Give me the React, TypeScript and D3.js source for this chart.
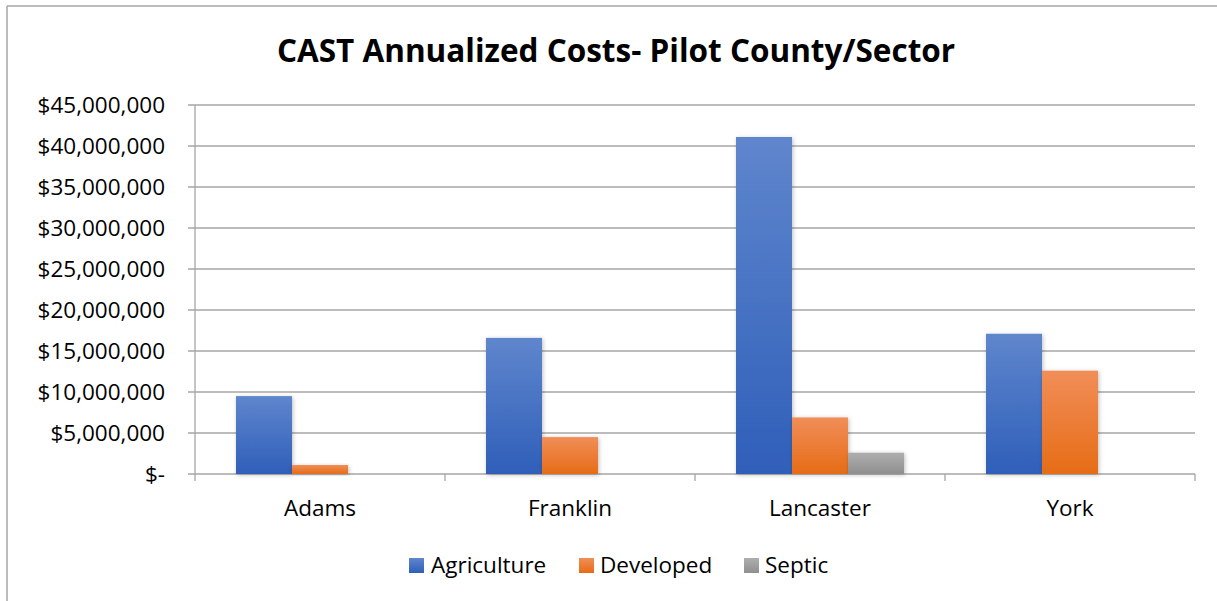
import React from "react";
import * as d3 from "d3";

const categories = ["Adams", "Franklin", "Lancaster", "York"];
const seriesNames = ["Agriculture", "Developed", "Septic"];
const agriculture = [9500000, 16600000, 41100000, 17100000];
const developed = [1100000, 4500000, 6900000, 12600000];
const septic = [0, 0, 2600000, 0];
const yTicks = [0, 5000000, 10000000, 15000000, 20000000, 25000000, 30000000, 35000000, 40000000, 45000000];

const seriesValues = [agriculture, developed, septic];
const gradients = [
  ["#5F86CD", "#2F5FB9"],
  ["#F18E58", "#E66C16"],
  ["#AEAEAE", "#8F8F8F"],
];

const W = 1217, H = 601;
const left = 195, right = 1195, top = 105, bottom = 474;

const fmt = (v: number) => (v === 0 ? "$-" : "$" + d3.format(",")(v));

export default function App() {
  const x0 = d3.scaleBand<string>().domain(categories).range([left, right]).paddingInner(0).paddingOuter(0);
  const groupW = x0.bandwidth();
  const gap = 0.328;
  const x1 = d3
    .scaleBand<string>()
    .domain(seriesNames)
    .range([groupW * gap / 2, groupW * (1 - gap / 2)])
    .padding(0);
  const y = d3.scaleLinear().domain([0, 45000000]).range([bottom, top]);
  const font = "'Open Sans', Lato, sans-serif";
  const fs = 22.5;

  const legendItems = [
    { name: "Agriculture", sx: 409, tx: 431 },
    { name: "Developed", sx: 579, tx: 600 },
    { name: "Septic", sx: 744, tx: 765 },
  ];

  return (
    <svg width={W} height={H} style={{ position: "absolute", left: 0, top: 0, background: "#fff" }} fontFamily={font}>
      <defs>
        {gradients.map((g, i) => (
          <linearGradient key={i} id={`grad${i}`} x1="0" y1="0" x2="0" y2="1">
            <stop offset="0%" stopColor={g[0]} />
            <stop offset="100%" stopColor={g[1]} />
          </linearGradient>
        ))}
        <filter id="shadow" x="-20%" y="-20%" width="140%" height="140%">
          <feDropShadow dx="1" dy="1" stdDeviation="2" floodColor="#000" floodOpacity="0.25" />
        </filter>
      </defs>
      <line x1={7} y1={6} x2={W} y2={6} stroke="#A6A6A6" strokeWidth={1.5} />
      <line x1={7} y1={6} x2={7} y2={H} stroke="#A6A6A6" strokeWidth={1.5} />

      <text x={616} y={62} textAnchor="middle" fontSize={31.5} fontWeight="bold" fill="#000">
        CAST Annualized Costs- Pilot County/Sector
      </text>

      {yTicks.map((t) => (
        <g key={t}>
          <line x1={188} x2={right} y1={y(t)} y2={y(t)} stroke="#A6A6A6" strokeWidth={1.3} />
          <text x={165} y={y(t) + 8} textAnchor="end" fontSize={fs} fill="#000">
            {fmt(t)}
          </text>
        </g>
      ))}
      <line x1={left} x2={left} y1={top} y2={bottom + 7} stroke="#A6A6A6" strokeWidth={1.3} />
      {categories.map((c) => (
        <line key={c} x1={x0(c)! + groupW} x2={x0(c)! + groupW} y1={bottom} y2={bottom + 7} stroke="#A6A6A6" strokeWidth={1.3} />
      ))}

      {categories.map((c, ci) => (
        <g key={c} transform={`translate(${x0(c)},0)`}>
          {seriesNames.map((s, si) => {
            const v = seriesValues[si][ci];
            if (!v) return null;
            return (
              <rect
                key={s}
                x={x1(s)}
                y={y(v)}
                width={x1.bandwidth()}
                height={bottom - y(v)}
                fill={`url(#grad${si})`}
                filter="url(#shadow)"
              />
            );
          })}
        </g>
      ))}

      {categories.map((c) => (
        <text key={c} x={x0(c)! + groupW / 2} y={516} textAnchor="middle" fontSize={fs} fill="#000">
          {c}
        </text>
      ))}

      {legendItems.map((l, i) => (
        <g key={l.name}>
          <rect x={l.sx} y={558} width={15} height={15} fill={`url(#grad${i})`} />
          <text x={l.tx} y={573} fontSize={fs} fill="#000">
            {l.name}
          </text>
        </g>
      ))}
    </svg>
  );
}
